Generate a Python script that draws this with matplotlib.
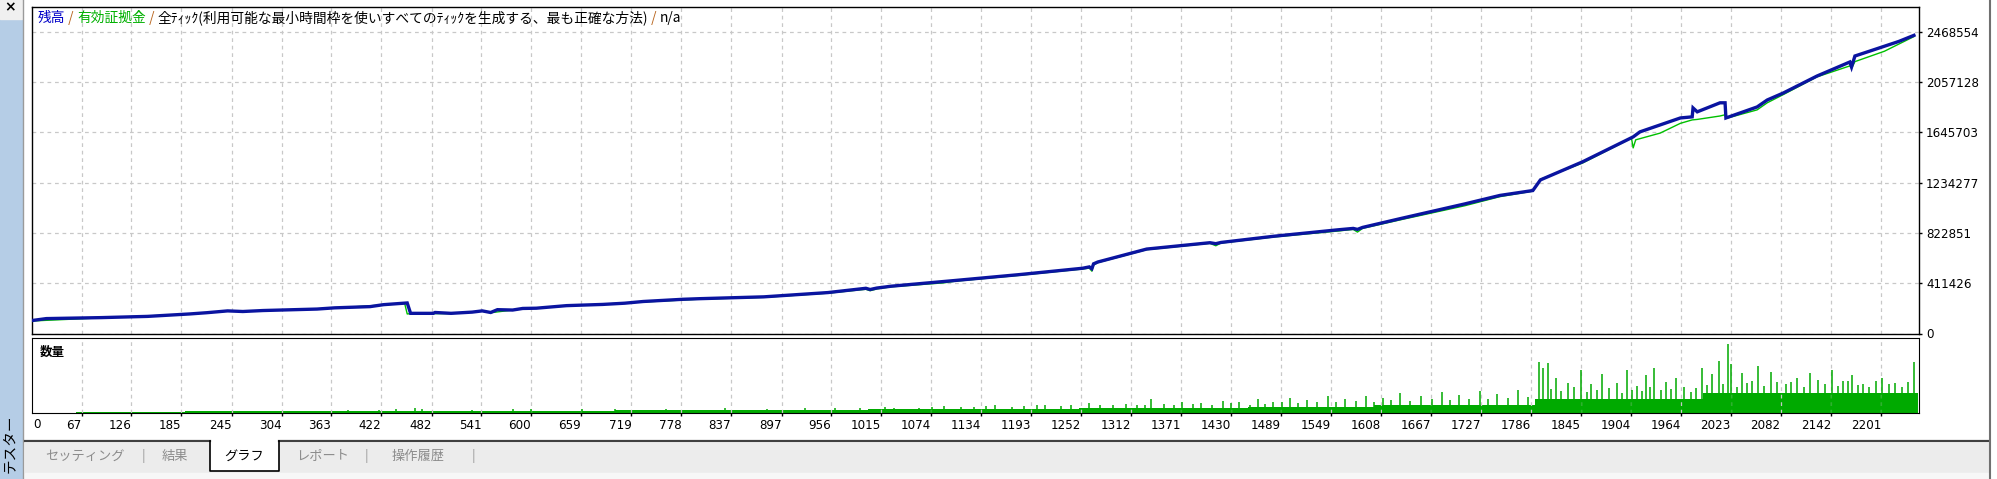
import numpy as np
import matplotlib.pyplot as plt
import matplotlib.transforms as mtransforms
from matplotlib.patches import Rectangle
from matplotlib.lines import Line2D

plt.rcParams['font.family'] = ['Noto Sans CJK JP', 'DejaVu Sans']

# balance curve (trade no., value in thousands)
bal_trade = [0, 10, 25, 90, 145, 195, 215, 240, 258, 282, 346, 367, 409, 425, 453, 457, 484, 486, 505, 530,
             542, 552, 560, 578, 590, 606, 642, 685, 711, 733, 780, 800, 876, 952, 997, 1002, 1010, 1027, 1103, 1179,
             1254, 1262, 1265, 1267, 1272, 1330, 1405, 1412, 1418, 1481, 1556, 1575, 1580, 1586, 1632, 1707, 1749, 1788, 1797, 1847,
             1907, 1915, 1963, 1977, 1978, 1983, 2010, 2016, 2017, 2054, 2066, 2085, 2125, 2164, 2166, 2170, 2188, 2222, 2240]
bal_value = [100, 108, 122, 130, 140, 160, 170, 185, 180, 188, 200, 210, 220, 236, 250, 165, 165, 172, 165, 175,
             185, 172, 195, 192, 205, 207, 228, 238, 248, 262, 280, 285, 300, 335, 370, 360, 372, 387, 434, 482,
             534, 545, 530, 570, 585, 691, 743, 735, 745, 796, 848, 860, 852, 868, 942, 1060, 1130, 1170, 1257, 1405,
             1609, 1650, 1764, 1773, 1846, 1814, 1888, 1888, 1764, 1854, 1911, 1968, 2107, 2222, 2181, 2271, 2312, 2390, 2440]

# equity curve
eq_trade = [0, 90, 195, 240, 282, 367, 425, 450, 453, 457, 505, 542, 552, 590, 642, 733, 800, 876, 952, 997,
            1002, 1010, 1027, 1090, 1103, 1179, 1254, 1262, 1265, 1267, 1272, 1330, 1405, 1412, 1418, 1481, 1556, 1575, 1580, 1586,
            1632, 1707, 1749, 1788, 1797, 1847, 1905, 1907, 1910, 1939, 1963, 1977, 1983, 2010, 2016, 2017, 2054, 2066, 2085, 2125,
            2164, 2166, 2170, 2205, 2240]
eq_value = [100, 128, 158, 183, 186, 208, 234, 246, 160, 162, 163, 183, 170, 202, 225, 258, 281, 296, 330, 362,
            350, 365, 382, 415, 428, 476, 528, 535, 510, 560, 580, 686, 738, 718, 740, 790, 838, 852, 830, 860,
            932, 1045, 1120, 1165, 1262, 1395, 1598, 1519, 1585, 1640, 1720, 1748, 1752, 1780, 1790, 1760, 1830, 1888, 1955, 2100,
            2190, 2170, 2225, 2310, 2430]

# volume: base level per trade range + single spikes
vol_edges = [60, 190, 380, 700, 1000, 1250, 1450, 1600, 1790, 1990, 2245]
vol_base = [0.15, 0.2, 0.3, 0.4, 0.5, 0.65, 0.8, 1.0, 1.8, 2.6]
spike_trade = [383, 420, 440, 462, 470, 530, 578, 600, 660, 700, 760, 830, 880, 925, 960, 990, 1020, 1060, 1090, 1125,
               1150, 1185, 1210, 1240, 1262, 1290, 1318, 1335, 1350, 1372, 1395, 1420, 1440, 1462, 1480, 1500, 1520, 1545, 1565, 1590,
               1610, 1630, 1655, 1680, 1700, 1725, 1745, 1770, 1795, 1800, 1806, 1815, 1830, 1845, 1857, 1870, 1888, 1900, 1912, 1922,
               1932, 1946, 1958, 1967, 1989, 2001, 2009, 2020, 2023, 2036, 2048, 2055, 2070, 2078, 2101, 2117, 2126, 2143, 2156, 2167,
               2180, 2195, 2202, 2218, 2240,
               1030, 1075, 1110, 1140, 1170, 1200, 1228, 1275, 1305, 1328, 1362, 1385, 1408, 1430, 1452, 1470, 1490, 1510, 1532, 1555,
               1578, 1600, 1620, 1642, 1668, 1690, 1712, 1735, 1758, 1782, 1810, 1822, 1837, 1852, 1864, 1878, 1894, 1906, 1917, 1927,
               1940, 1952, 1975, 1982, 1995, 2014, 2030, 2042, 2062, 2088, 2094, 2110, 2135, 2150, 2162, 2174, 2187, 2210, 2226, 2233]
spike_size = [0.45, 0.35, 0.5, 0.65, 0.55, 0.35, 0.55, 0.5, 0.5, 0.55, 0.5, 0.6, 0.55, 0.6, 0.7, 0.6, 0.8, 0.65, 0.9, 0.85,
              1.0, 0.9, 1.0, 1.1, 1.3, 1.0, 1.1, 1.8, 1.2, 1.5, 1.3, 1.6, 1.4, 1.9, 1.5, 2.0, 1.7, 2.2, 1.8, 2.3,
              2.0, 2.6, 2.2, 2.8, 2.4, 2.9, 2.5, 3.0, 6.8, 5.9, 6.6, 4.6, 4.0, 5.7, 3.8, 5.2, 4.0, 5.7, 3.6, 5.0,
              6.0, 4.1, 4.6, 3.4, 6.0, 5.1, 6.9, 9.2, 6.5, 5.3, 4.2, 6.2, 5.4, 4.1, 4.6, 5.3, 4.4, 5.7, 4.3, 5.0,
              3.9, 4.2, 4.6, 4.0, 6.7,
              0.7, 0.8, 0.75, 0.9, 0.8, 1.0, 0.9, 1.0, 1.2, 1.0, 1.1, 1.2, 1.0, 1.3, 1.1, 1.2, 1.4, 1.3, 1.5, 1.4,
              1.6, 1.5, 1.7, 1.6, 1.8, 1.7, 1.9, 1.8, 2.0, 2.1, 3.2, 2.9, 3.4, 2.8, 3.0, 3.3, 2.7, 3.1, 2.9, 3.4,
              3.0, 3.2, 2.8, 3.3, 3.7, 3.9, 3.5, 4.0, 3.6, 3.8, 4.1, 3.5, 3.9, 3.6, 4.2, 3.7, 3.4, 3.8, 3.5, 4.1]

xtick_vals = [67, 126, 185, 245, 304, 363, 422, 482, 541, 600, 659, 719, 778, 837, 897, 956, 1015, 1074, 1134, 1193,
              1252, 1312, 1371, 1430, 1489, 1549, 1608, 1667, 1727, 1786, 1845, 1904, 1964, 2023, 2082, 2142, 2201]
ytick_vals = [0, 411426, 822851, 1234277, 1645703, 2057128, 2468554]

legend_parts = [('残高', '#0000c8'), (' / ', '#b8651e'), ('有効証拠金', '#00b000'), (' / ', '#b8651e'),
                ('全ﾃｨｯｸ(利用可能な最小時間枠を使いすべてのﾃｨｯｸを生成する、最も正確な方法)', 'black'),
                (' / ', '#b8651e'), ('n/a', 'black')]
tabs = ['セッティング', '結果', 'グラフ', 'レポート', '操作履歴']
tab_x = [85, 175, 244, 323, 418]

W, H = 1997, 479
fig = plt.figure(figsize=(W / 100, H / 100), dpi=100)
fig.patch.set_facecolor('white')
# pixel transform (origin top-left) for the window chrome
px = mtransforms.Affine2D().scale(1 / W, -1 / H).translate(0, 1) + fig.transFigure

# window chrome
fig.add_artist(Rectangle((0, 0), 22, 479, transform=px, color='#b5cde6', zorder=0))
fig.add_artist(Rectangle((0, 0), 22, 19, transform=px, color='#f0f0f0', zorder=0))
fig.add_artist(Line2D([23, 23], [0, 479], transform=px, color='#9a9a9a', lw=1))
fig.add_artist(Rectangle((25, 443), 1963, 30, transform=px, color='#ececec', zorder=0))
fig.add_artist(Rectangle((25, 473), 1963, 6, transform=px, color='#f7f7f7', zorder=0))
fig.add_artist(Line2D([25, 210], [441.5, 441.5], transform=px, color='#404040', lw=1.6))
fig.add_artist(Line2D([279, 1988], [441.5, 441.5], transform=px, color='#404040', lw=1.6))
fig.add_artist(Rectangle((210, 442), 69, 29, transform=px, facecolor='white', edgecolor='none'))
fig.add_artist(Line2D([210, 210, 279, 279], [441.5, 471, 471, 441.5], transform=px, color='black', lw=1.2))
fig.add_artist(Line2D([1990, 1990], [0, 479], transform=px, color='#707070', lw=1.5))
fig.text(10, 7, '×', transform=px, ha='center', va='center', fontsize=10, fontweight='bold', family='DejaVu Sans')
fig.text(10, 444, 'テスター', transform=px, ha='center', va='center', rotation=90, fontsize=10.5)
for name, x in zip(tabs, tab_x):
    fig.text(x, 456, name, transform=px, ha='center', va='center', fontsize=9.5,
             color='black' if name == 'グラフ' else '#8c8c8c')
for x in [143, 366, 473]:
    fig.text(x, 456, '|', transform=px, ha='center', va='center', fontsize=9.5, color='#9a9a9a')

grid_kw = dict(color='#c8c8c8', linestyle=(0, (3, 3)), linewidth=0.9)

# balance / equity panel
ax = fig.add_axes([32 / W, 1 - 333.5 / H, 1887 / W, 326.5 / H])
ax.plot(eq_trade, np.array(eq_value) * 1000, color='#00c000', lw=1.0, zorder=3)
ax.plot(bal_trade, np.array(bal_value) * 1000, color='#0a14a0', lw=2.4, zorder=4, solid_joinstyle='miter')
ax.set_xlim(8, 2246)
ax.set_ylim(0, 2672000)
ax.set_xticks(xtick_vals)
ax.tick_params(axis='x', length=0, labelbottom=False)
ax.yaxis.tick_right()
ax.set_yticks(ytick_vals, labels=[str(v) for v in ytick_vals], fontfamily='DejaVu Sans')
ax.tick_params(axis='y', direction='out', length=2.2, width=1, pad=2.9, labelsize=8.6)
ax.grid(True, **grid_kw)
for s in ax.spines.values():
    s.set_linewidth(1.0)

# volume panel
vol = fig.add_axes([32 / W, 1 - 413 / H, 1887 / W, 75.5 / H])
vol.fill_between(vol_edges, vol_base + [vol_base[-1]], step='post', color='#00aa00', lw=0)
vol.vlines(spike_trade, 0, spike_size, color='#00aa00', lw=1.1)
vol.set_xlim(8, 2246)
vol.set_ylim(0, 10)
vol.set_yticks([])
vol.set_xticks(xtick_vals, labels=[str(v) for v in xtick_vals], ha='right', fontfamily='DejaVu Sans')
vol.tick_params(axis='x', direction='out', length=2.2, width=1, pad=2.2, labelsize=8.6)
vol.grid(True, axis='x', **grid_kw)
vol.annotate('0', xy=(0, 0), xycoords='axes fraction', xytext=(1.5, -5.5), textcoords='offset pixels',
             ha='left', va='top', fontsize=8.6, family='DejaVu Sans')
vol.annotate('数量', xy=(0, 1), xycoords='axes fraction', xytext=(8, -14.5), textcoords='offset pixels',
             ha='left', va='center', fontsize=9, fontweight='bold')

# coloured legend line at the top of the chart
renderer = fig.canvas.get_renderer()
x = 38
for s, c in legend_parts:
    t = fig.text(x, 18, s, transform=px, ha='left', va='center', fontsize=9.9, color=c)
    x += t.get_window_extent(renderer).width

fig.savefig('out.png', dpi=100)
